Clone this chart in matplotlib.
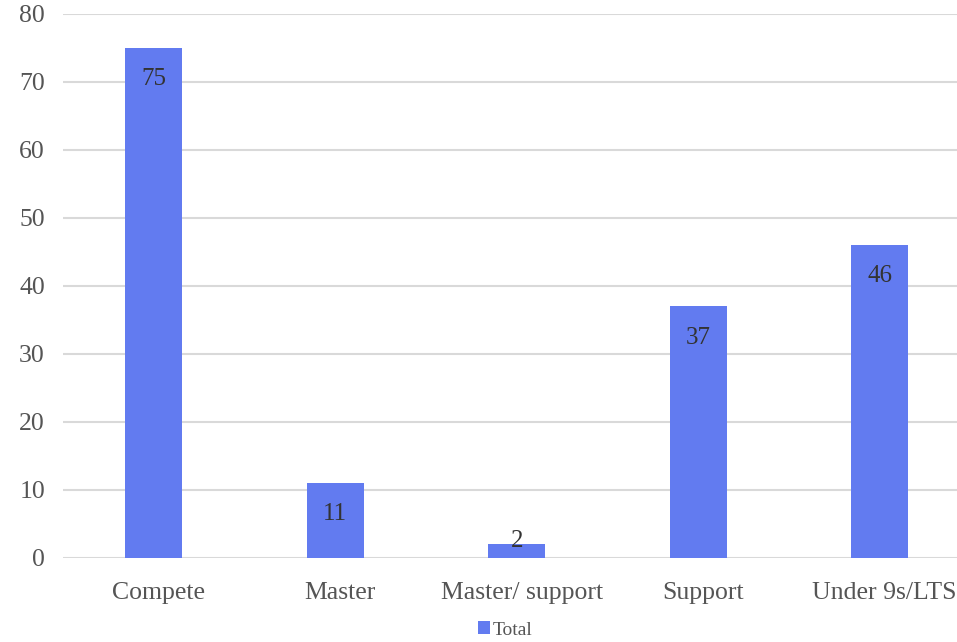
import matplotlib.pyplot as plt
import matplotlib.transforms as mtransforms
from matplotlib.patches import Patch

# chart data
categories = ["Compete", "Master", "Master/ support", "Support", "Under 9s/LTS"]
totals = [75, 11, 2, 37, 46]
y_ticks = [0, 10, 20, 30, 40, 50, 60, 70, 80]

bar_color = "#627bf0"
text_color = "#555555"
grid_color = "#d9d9d9"

plt.rcParams['font.family'] = ['Liberation Serif', 'DejaVu Serif']

fig = plt.figure(figsize=(9.57, 6.42), dpi=100)
ax = fig.add_axes([63 / 957, 84 / 642, 907.5 / 957, 544 / 642])

x = list(range(len(categories)))
ax.bar(x, totals, width=0.315, color=bar_color, zorder=3)

# value labels inside the top of each bar
for xi, v in zip(x, totals):
    if v > 8:
        ax.text(xi, v - 4.6, str(v), ha='center', va='center', fontsize=18, color="#333333", zorder=4)
    else:
        ax.text(xi, v + 0.5, str(v), ha='center', va='center', fontsize=18, color="#333333", zorder=4)

ax.set_xlim(-0.5, len(categories) - 0.5)
ax.set_ylim(0, 80)
ax.set_yticks(y_ticks)
ax.set_xticks(x)
ax.set_xticklabels(categories)
ax.tick_params(axis='both', length=0, labelsize=18.5, colors=text_color)
ax.tick_params(axis='y', pad=13)
ax.tick_params(axis='x', pad=17)
ax.grid(axis='y', color=grid_color, linewidth=1.5, zorder=0)
for s in ax.spines.values():
    s.set_visible(False)

# category labels sit a few pixels right of the bar centres in the original
shift = mtransforms.ScaledTranslation(5 / 100, 0, fig.dpi_scale_trans)
for lbl in ax.get_xticklabels():
    lbl.set_transform(lbl.get_transform() + shift)

handles = [Patch(facecolor=bar_color, label="Total")]
fig.legend(handles=handles, loc='center', bbox_to_anchor=(505 / 957, 1 - 630 / 642),
           frameon=False, fontsize=14, handlelength=0.6, handleheight=0.6,
           handletextpad=0.15, labelcolor=text_color)

fig.savefig("out.png", dpi=100)
